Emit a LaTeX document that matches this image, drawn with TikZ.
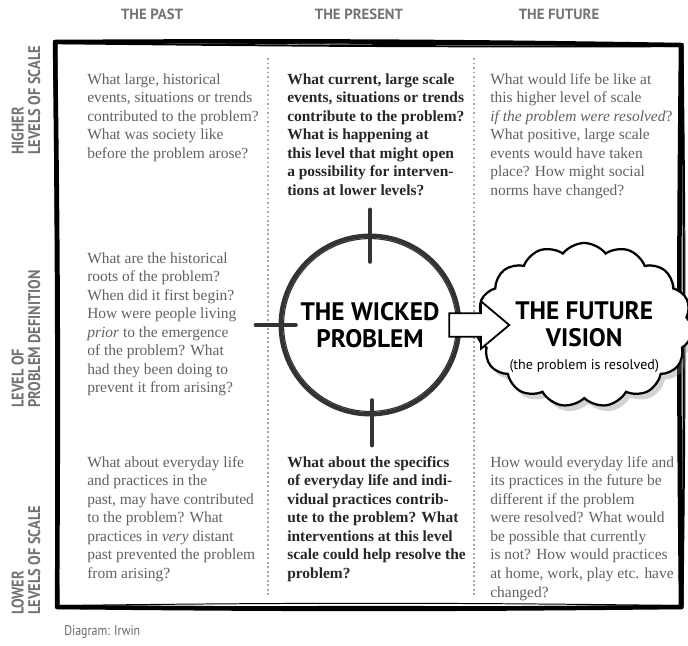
\documentclass[tikz,border=0pt]{standalone}
\usepackage{fontspec}
\setmainfont{Liberation Serif}
\newfontfamily\headfont{PT Sans}
\newfontfamily\narrowfont{PT Sans}[FakeStretch=0.85]
\usetikzlibrary{shapes, shapes.symbols, shapes.arrows, positioning, calc, shadows}

\begin{document}
\begin{tikzpicture}[
            x=0.025cm, y=-0.025cm,
            colhead/.style={font=\headfont\bfseries\fontsize{10.5}{12}\selectfont, text=black!55},
            rowhead/.style={font=\narrowfont\bfseries\fontsize{12}{11.8}\selectfont, text=black!55, rotate=90, anchor=west, align=left, inner sep=0pt},
            cell/.style={anchor=north west, align=left, inner sep=0pt, text=black!62, font=\fontsize{11}{13.2}\selectfont},
            boldcell/.style={cell, text=black!85, font=\bfseries\fontsize{11}{13.2}\selectfont},
            divider/.style={draw=black!35, dotted, line width=1.2pt},
            sketch/.style={draw=black, line cap=round, line join=round},
            bigword/.style={font=\headfont\bfseries\fontsize{18}{19}\selectfont, align=center, inner sep=0pt}
        ]
        \useasboundingbox (0,0) rectangle (688,645);

        % frame
        \coordinate (tl) at (55,42);
        \coordinate (tr) at (681,45);
        \coordinate (br) at (681,607);
        \coordinate (bl) at (57,607);
        \foreach \dx/\dy/\w/\b in {0/0/3.2pt/0.6, 1.5/1.2/1.4pt/-0.4, -1.2/-1/1pt/0.3, 2/-1.5/0.7pt/-0.7}
            \draw[sketch, line width=\w] ($(tl)+(\dx,\dy)$) to[bend left=\b] ($(tr)+(\dx,\dy)$) to[bend right=\b] ($(br)+(\dx,\dy)$) to[bend left=\b] ($(bl)+(\dx,\dy)$) to[bend right=\b] cycle;

        \node[colhead] (past) at (152,14) {THE PAST};
        \node[colhead] (present) at (359,14) {THE PRESENT};
        \node[colhead] (future) at (559,14) {THE FUTURE};

        \node[rowhead] (higher) at (26,155) {HIGHER\\LEVELS OF SCALE};
        \node[rowhead] (level) at (26,408) {LEVEL OF\\PROBLEM DEFINITION};
        \node[rowhead] (lower) at (26,615) {LOWER\\LEVELS OF SCALE};

        \draw[divider] (268,58) -- (268,596);
        \draw[divider] (474,58) -- (474,596);

        \node[cell] (pasthigh) at (87,73) {What large, historical\\events, situations or trends\\contributed to the problem?\\What was society like\\before the problem arose?};
        \node[boldcell] (presenthigh) at (287,73) {What current, large scale\\events, situations or trends\\contribute to the problem?\\What is happening at\\this level that might open\\a possibility for interven-\\tions at lower levels?};
        \node[cell] (futurehigh) at (490,73) {What would life be like at\\this higher level of scale\\\emph{if the problem were resolved}?\\What positive, large scale\\events would have taken\\place? How might social\\norms have changed?};
        \node[cell] (pastmid) at (87,252) {What are the historical\\roots of the problem?\\When did it first begin?\\How were people living\\\emph{prior} to the emergence\\of the problem? What\\had they been doing to\\prevent it from arising?};
        \node[cell] (pastlow) at (87,456) {What about everyday life\\and practices in the\\past, may have contributed\\to the problem? What\\practices in \emph{very} distant\\past prevented the problem\\from arising?};
        \node[boldcell] (presentlow) at (287,456) {What about the specifics\\of everyday life and indi-\\vidual practices contrib-\\ute to the problem? What\\interventions at this level\\scale could help resolve the\\problem?};
        \node[cell] (futurelow) at (490,456) {How would everyday life and\\its practices in the future be\\different if the problem\\were resolved? What would\\be possible that currently\\is not? How would practices\\at home, work, play etc. have\\changed?};

        % target
        \node[circle, minimum size=4.5cm, bigword] (wicked) at (370,325) {THE WICKED\\PROBLEM};
        \foreach \r/\w in {2.22cm/2.6pt, 2.27cm/0.9pt, 2.16cm/0.8pt, 2.25cm/0.5pt}
            \draw[sketch, draw=black!80, line width=\w] (wicked.center) circle[radius=\r];
        \draw[sketch, draw=black!80, line width=3pt] ($(wicked.north)+(0,-25)$) -- ($(wicked.north)+(0,27)$);
        \draw[sketch, draw=black!80, line width=3pt] ($(wicked.south)+(2,-15)$) -- ($(wicked.south)+(2,30)$);
        \draw[sketch, draw=black!80, line width=3pt] ($(wicked.west)+(-24,0)$) -- ($(wicked.west)+(16,0)$);

        \node[cloud, cloud puffs=15, cloud puff arc=105, aspect=1.35, draw, fill=white, line width=1.6pt, minimum width=5.4cm, minimum height=4.1cm, inner sep=0pt, drop shadow={shadow xshift=3pt, shadow yshift=-4pt, opacity=0.35}, right=0.4cm of wicked] (vision) {};
        \node[bigword] (visiontext) at ($(vision.center)+(0,12)$) {THE FUTURE\\VISION\\[-3pt]{\fontsize{10}{12}\selectfont\mdseries (the problem is resolved)}};

        \node[single arrow, draw, fill=white, line width=1.3pt, minimum height=1.5cm, inner sep=0.27cm, single arrow head extend=0.3cm, single arrow tip angle=80, anchor=west] (push) at ($(wicked.east)+(-12,0)$) {};

        \node[font=\narrowfont\fontsize{10}{12}\selectfont, text=black!60, anchor=west, inner sep=0pt] (credit) at (64,632) {Diagram: Irwin};
        \end{tikzpicture}
\end{document}
